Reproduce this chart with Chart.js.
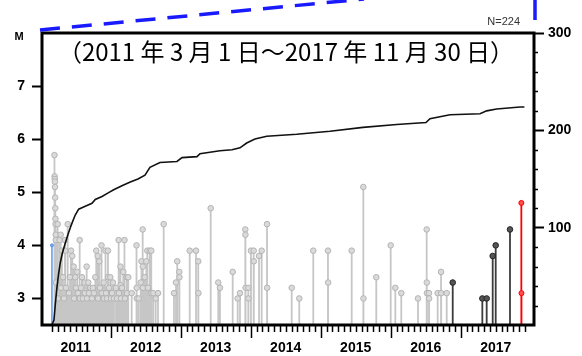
<!DOCTYPE html>
<html lang="ja">
<head>
<meta charset="UTF-8">
<title>地震活動経過図</title>
<script src="https://cdn.jsdelivr.net/npm/chart.js"></script>
<style>
  html, body { margin: 0; padding: 0; background: #fff; }
</style>
</head>
<body>
<canvas id="mtChart" width="582" height="356"></canvas>
<script>
// 年（10進）とマグニチュード
const blueYears = [2011.161];
const blueMags  = [4.0];

const grayYears = [
  2011.197, 2011.199, 2011.201, 2011.203, 2011.205, 2011.207, 2011.209, 2011.211, 2011.213, 2011.215,
  2011.217, 2011.219, 2011.243, 2011.247, 2011.271, 2011.286, 2011.290, 2011.304, 2011.319, 2011.333,
  2011.347, 2011.351, 2011.361, 2011.386, 2011.404, 2011.419, 2011.433, 2011.451, 2011.471, 2011.476,
  2011.494, 2011.504, 2011.523, 2011.533, 2011.557, 2011.561, 2011.576, 2011.590, 2011.604, 2011.629,
  2011.633, 2011.657, 2011.661, 2011.680, 2011.690, 2011.709, 2011.733, 2011.747, 2011.761, 2011.780,
  2011.794, 2011.814, 2011.819, 2011.837, 2011.847, 2011.869, 2011.876, 2011.900, 2011.904, 2011.926,
  2011.933, 2011.947, 2011.961, 2011.963, 2011.976, 2011.994, 2012.004, 2012.019, 2012.033, 2012.047,
  2012.076, 2012.090, 2012.114, 2012.119, 2012.140, 2012.142, 2012.147, 2012.161, 2012.180, 2012.197,
  2012.204, 2012.229, 2012.233, 2012.251, 2012.300, 2012.369, 2012.371, 2012.373, 2012.400, 2012.429,
  2012.440, 2012.457, 2012.459, 2012.461, 2012.486, 2012.509, 2012.523, 2012.533, 2012.557, 2012.580,
  2012.582, 2012.609, 2012.643, 2012.676, 2012.757, 2012.904, 2012.933, 2012.951, 2012.980, 2012.982,
  2013.129, 2013.219, 2013.251, 2013.253, 2013.429, 2013.537, 2013.561, 2013.743, 2013.814, 2013.847,
  2013.923, 2013.925, 2013.927, 2013.966, 2013.968, 2014.004, 2014.043, 2014.045, 2014.119, 2014.157,
  2014.233, 2014.235, 2014.586, 2014.694, 2014.894, 2015.104, 2015.106, 2015.443, 2015.609, 2015.611,
  2015.794, 2016.000, 2016.066, 2016.151, 2016.390, 2016.514, 2016.516, 2016.518, 2016.547, 2016.549,
  2016.671, 2016.719, 2016.721, 2016.800
];
const grayMags = [
  5.7, 5.3, 5.25, 5.2, 5.1, 4.9, 4.7, 4.5, 4.4, 4.2,
  4.1, 3.3, 4.4, 3.0, 4.1, 4.2, 3.2, 3.9, 3.4, 3.0,
  4.1, 3.9, 3.2, 4.4, 3.1, 3.4, 3.9, 3.8, 3.6, 3.0,
  3.4, 3.2, 3.5, 3.1, 4.1, 3.0, 3.2, 3.4, 3.0, 3.3,
  3.1, 3.6, 3.0, 3.3, 3.1, 3.2, 3.0, 3.2, 3.1, 3.4,
  3.9, 3.8, 3.0, 3.7, 3.2, 4.0, 3.1, 3.3, 3.0, 3.9,
  3.1, 3.0, 3.9, 3.4, 3.2, 3.4, 3.0, 3.1, 3.3, 3.0,
  3.2, 3.0, 4.1, 3.1, 3.6, 3.25, 3.0, 3.2, 3.5, 4.1,
  3.0, 3.4, 3.1, 3.4, 3.1, 4.0, 3.2, 3.0, 3.0, 3.3,
  3.7, 4.3, 3.6, 3.2, 3.4, 3.7, 3.9, 3.2, 3.9, 3.9,
  3.1, 3.1, 3.0, 3.1, 4.4, 3.1, 3.3, 3.7, 3.5, 3.4,
  3.9, 3.9, 3.7, 3.1, 4.7, 3.3, 3.2, 3.5, 3.0, 3.1,
  4.3, 4.2, 3.2, 3.2, 3.0, 3.9, 3.9, 3.7, 3.8, 3.9,
  4.4, 3.2, 3.2, 3.0, 3.9, 3.9, 3.3, 3.9, 5.1, 3.0,
  3.4, 4.0, 3.2, 3.1, 3.0, 4.3, 3.3, 3.1, 3.1, 3.0,
  3.1, 3.5, 3.1, 3.1
];

const blackYears = [2016.886, 2017.309, 2017.371, 2017.457, 2017.500, 2017.704];
const blackMags  = [3.3, 3.0, 3.0, 3.8, 4.0, 4.3];

const redYears = [2017.866, 2017.868];
const redMags  = [4.8, 3.1];

// 積算回数
const cumYears = [
  2011.160, 2011.190, 2011.210, 2011.233, 2011.255, 2011.280, 2011.310, 2011.351, 2011.390, 2011.423,
  2011.460, 2011.494, 2011.543, 2011.637, 2011.733, 2011.780, 2011.876, 2011.971, 2012.043, 2012.161,
  2012.280, 2012.390, 2012.490, 2012.561, 2012.704, 2012.947, 2013.019, 2013.233, 2013.276, 2013.561,
  2013.733, 2013.847, 2013.943, 2014.061, 2014.229, 2014.657, 2015.133, 2015.604, 2016.086, 2016.504,
  2016.561, 2016.847, 2017.276, 2017.371, 2017.514, 2017.847, 2017.910
];
const cumCounts = [
  0, 5, 22, 39, 52, 64, 74, 84, 93, 100,
  107, 113, 119, 122, 125, 129, 132, 136, 139, 143,
  147, 150, 154, 162, 167, 168, 172, 173, 176, 179,
  180, 182, 187, 191, 194, 196, 199, 203, 206, 208,
  212, 216, 217, 220, 222, 224, 224
];

const yearLabels = ['2011', '2012', '2013', '2014', '2015', '2016', '2017'];
const mTicks = [3, 4, 5, 6, 7];
const nTicks = [100, 200, 300];

const M_MIN = 2.5, M_MAX = 8;
const X_MIN = 2011.019, X_MAX = 2018.047;
const LABEL_FONT = { family: 'Liberation Sans', size: 14, weight: 'bold' };

function stems(years, mags) {
  const out = [];
  years.forEach((x, i) => {
    out.push({ x: x, y: M_MIN }, { x: x, y: mags[i] }, { x: x, y: null });
  });
  return out;
}
function heads(years, mags) {
  return years.map((x, i) => ({ x: x, y: mags[i] }));
}
function stemSet(years, mags, color, width) {
  return {
    data: stems(years, mags), yAxisID: 'yM', borderColor: color, borderWidth: width,
    pointRadius: 0, spanGaps: false, order: 3
  };
}
function headSet(years, mags, fill, edge, r) {
  return {
    data: heads(years, mags), yAxisID: 'yM', showLine: false,
    pointRadius: r, pointBackgroundColor: fill, pointBorderColor: edge, pointBorderWidth: 1, order: 2
  };
}

const decor = {
  id: 'decor',
  afterDatasetsDraw(chart) {
    const { ctx, chartArea: a, scales } = chart;
    ctx.save();
    // 枠
    ctx.strokeStyle = '#000';
    ctx.lineWidth = 3;
    ctx.strokeRect(a.left, a.top, a.right - a.left, a.bottom - a.top);
    // 月・年の目盛
    ctx.lineWidth = 1.5;
    for (let k = 2; k <= 83; k++) {
      const px = Math.round(scales.x.getPixelForValue(2011 + k / 12)) + 0.5;
      const len = k % 12 === 0 ? 13 : 7;
      ctx.beginPath();
      ctx.moveTo(px, a.bottom + 1);
      ctx.lineTo(px, a.bottom + len);
      ctx.stroke();
    }
    // 右軸の小目盛
    for (let v = 20; v < 300; v += 20) {
      if (v % 100 === 0) continue;
      const py = Math.round(scales.yN.getPixelForValue(v)) + 0.5;
      ctx.beginPath();
      ctx.moveTo(a.right + 1, py);
      ctx.lineTo(a.right + 4, py);
      ctx.stroke();
    }
    ctx.restore();
  },
  afterDraw(chart) {
    const { ctx, chartArea: a } = chart;
    ctx.save();
    ctx.fillStyle = '#000';
    ctx.font = 'bold 11px "Liberation Sans"';
    ctx.textAlign = 'center';
    ctx.textBaseline = 'middle';
    ctx.fillText('M', 19, 37);

    ctx.fillStyle = '#333';
    ctx.font = '11px "Liberation Sans"';
    ctx.textAlign = 'right';
    ctx.fillText('N=224', a.right - 14, 22);

    ctx.fillStyle = '#000';
    ctx.font = '24px "Noto Sans CJK JP"';
    ctx.textAlign = 'center';
    ctx.fillText('（2011 年 3 月 1 日～2017 年 11 月 30 日）', (a.left + a.right) / 2 - 2, a.top + 19);

    // 青い破線
    ctx.strokeStyle = '#1a1aff';
    ctx.lineWidth = 3.5;
    ctx.setLineDash([20, 12]);
    ctx.beginPath();
    ctx.moveTo(a.left - 2, a.top - 3);
    ctx.lineTo(a.left + 322, -1);
    ctx.stroke();
    ctx.beginPath();
    ctx.moveTo(a.right + 1, 0);
    ctx.lineTo(a.right + 1, a.top - 2);
    ctx.stroke();
    ctx.restore();
  }
};

new Chart(document.getElementById('mtChart'), {
  type: 'line',
  data: {
    datasets: [
      {
        data: cumYears.map((x, i) => ({ x: x, y: cumCounts[i] })),
        yAxisID: 'yN', borderColor: '#111', borderWidth: 1.6, pointRadius: 0, tension: 0, order: 0
      },
      stemSet(redYears, redMags, '#ff0000', 1.8),
      headSet(redYears, redMags, '#ff5050', '#ff0000', 2.5),
      stemSet(blackYears, blackMags, '#3c3c3c', 1.8),
      headSet(blackYears, blackMags, '#555', '#222', 2.8),
      stemSet(blueYears, blueMags, '#7aa8f0', 1.8),
      headSet(blueYears, blueMags, '#7aa8f0', '#5a8ee8', 1.5),
      stemSet(grayYears, grayMags, '#c6c6c6', 1.8),
      headSet(grayYears, grayMags, '#dadada', '#b4b4b4', 2.8)
    ]
  },
  options: {
    responsive: false,
    animation: false,
    layout: { padding: { top: 33, left: 0, right: 0, bottom: 0 } },
    plugins: { legend: { display: false }, tooltip: { enabled: false } },
    scales: {
      x: {
        type: 'linear', min: X_MIN, max: X_MAX,
        afterBuildTicks: s => { s.ticks = yearLabels.map(y => ({ value: Number(y) + 0.5 })); },
        afterFit: s => { s.height = 31; },
        ticks: {
          autoSkip: false, maxRotation: 0, padding: 2, color: '#000', font: LABEL_FONT,
          callback: v => String(Math.floor(v))
        },
        grid: { drawOnChartArea: false, tickLength: 13, tickColor: 'transparent' },
        border: { display: false }
      },
      yM: {
        type: 'linear', position: 'left', min: M_MIN, max: M_MAX,
        afterBuildTicks: s => { s.ticks = mTicks.map(v => ({ value: v })); },
        afterFit: s => { s.width = 42; },
        ticks: { padding: 7, color: '#000', font: LABEL_FONT, callback: v => String(v) },
        grid: { drawOnChartArea: false, tickLength: 10, tickWidth: 2, tickColor: '#000' },
        border: { display: false }
      },
      yN: {
        type: 'linear', position: 'right', min: 0, max: 300,
        afterBuildTicks: s => { s.ticks = nTicks.map(v => ({ value: v })); },
        afterFit: s => { s.width = 48; },
        ticks: { padding: 4, color: '#000', font: LABEL_FONT, callback: v => String(v) },
        grid: { drawOnChartArea: false, tickLength: 10, tickWidth: 2, tickColor: '#000' },
        border: { display: false }
      }
    }
  },
  plugins: [decor]
});
</script>
</body>
</html>
